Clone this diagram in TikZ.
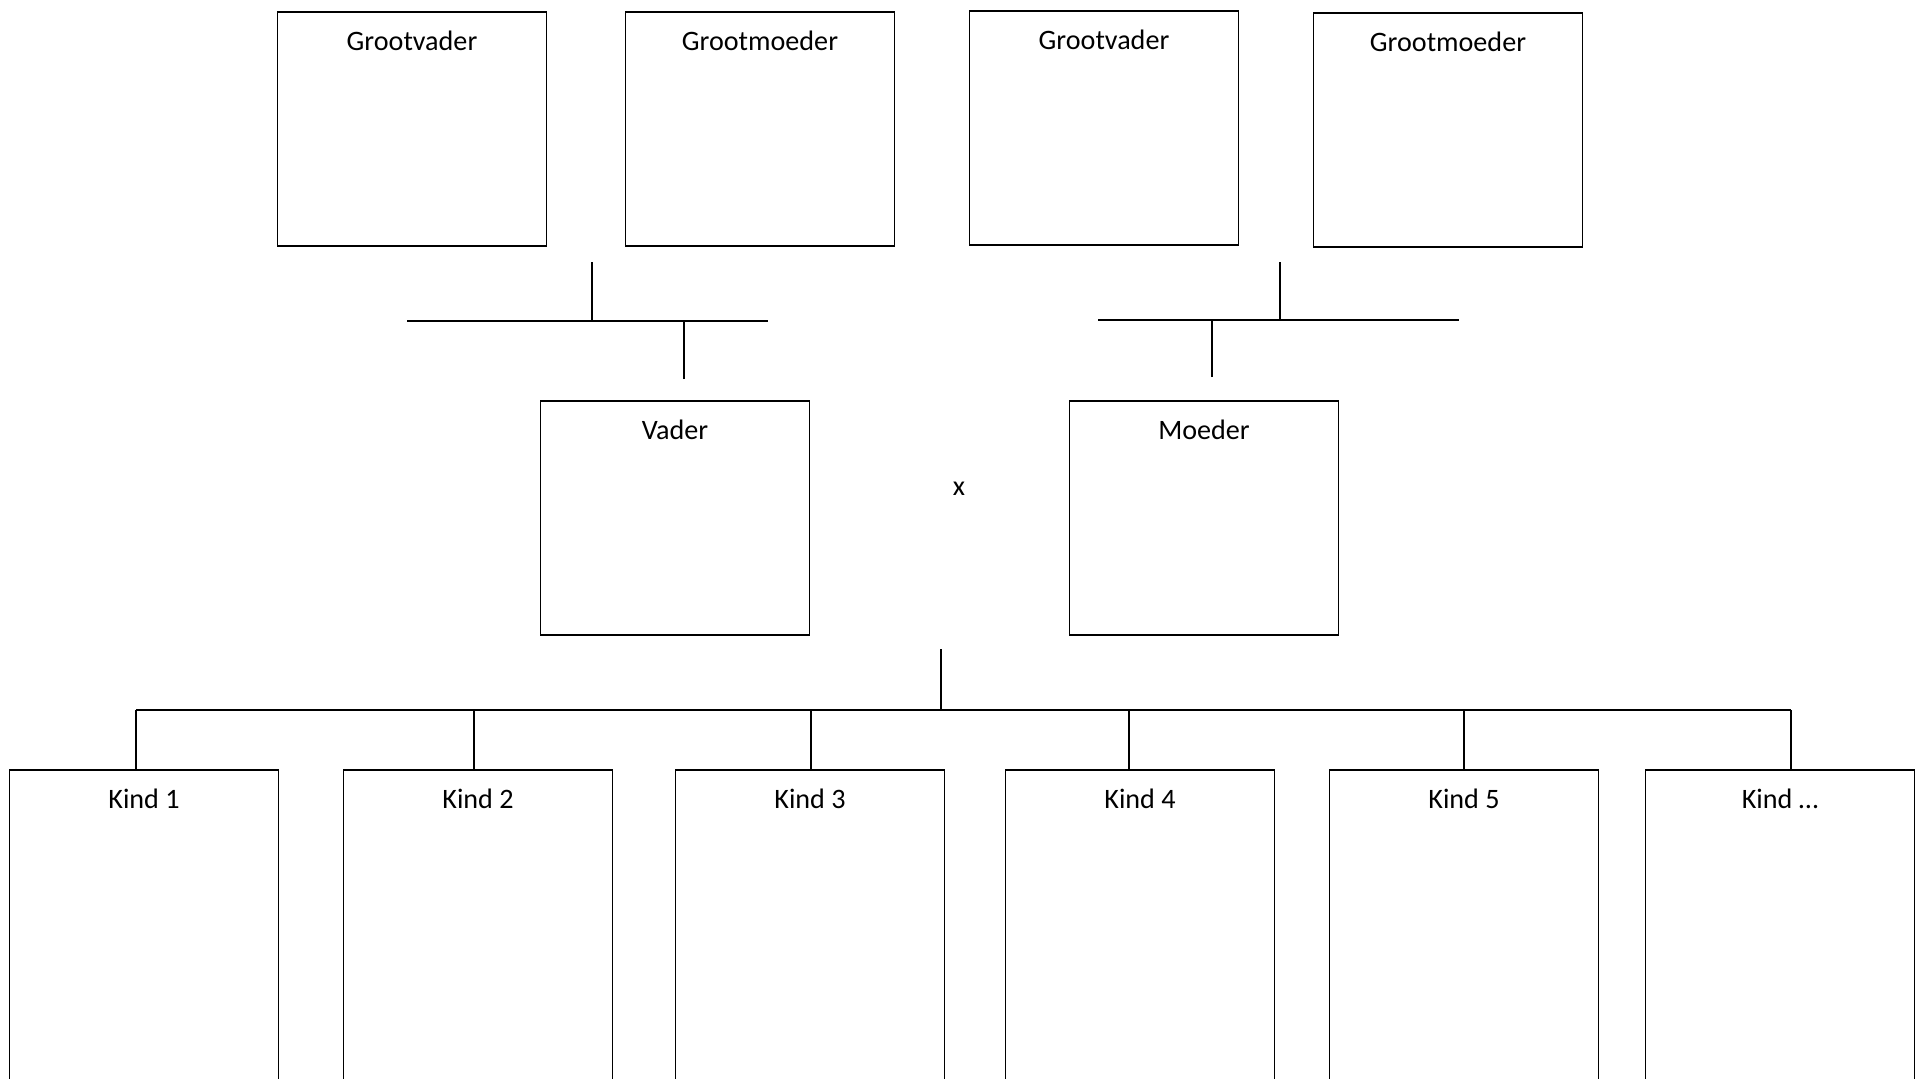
\documentclass[tikz,border=0pt]{standalone}
\usepackage{fontspec}
\setmainfont{Carlito}
\usepackage{tikz}

\begin{document}
\begin{tikzpicture}[x=0.01cm,y=-0.01cm,
  persoon/.style={rectangle,draw,minimum width=2.69cm,minimum height=2.34cm,
    label={[anchor=north,inner sep=0pt,yshift=-0.19cm]north:#1}},
  kind/.style={persoon=#1,minimum height=3.6cm},
  every label/.style={font=\fontsize{8}{10}\selectfont}]
\useasboundingbox (0,0) rectangle (1925,1078);
\clip (0,0) rectangle (1925,1078);

% grootouders
\node [persoon=Grootvader] (gv1) at (412,129) {};
\node [persoon=Grootmoeder] (gm1) at (760,129) {};
\node [persoon=Grootvader] (gv2) at (1104,128) {};
\node [persoon=Grootmoeder] (gm2) at (1448,130) {};

% ouders
\node [persoon=Vader] (vader) at (675,518) {};
\node [persoon=Moeder] (moeder) at (1204,518) {};
\node [font=\fontsize{8}{10}\selectfont] (kruis) at (959,489) {x};

% kinderen
\node [kind=Kind 1] (k1) at (144,950) {};
\node [kind=Kind 2] (k2) at (478,950) {};
\node [kind=Kind 3] (k3) at (810,950) {};
\node [kind=Kind 4] (k4) at (1140,950) {};
\node [kind=Kind 5] (k5) at (1464,950) {};
\node [kind=Kind …] (k6) at (1780,950) {};

% lijnen naar vader
\coordinate (gvv) at (592,262);
\coordinate (vl) at (407,321);
\coordinate (vr) at (768,321);
\coordinate (vk) at ([shift={(9,-21)}]vader.north);
\draw (vl) -- (vr);
\draw (gvv) -- (gvv |- vl);
\draw (vk) -- (vk |- vl);

% lijnen naar moeder
\coordinate (gvm) at (1280,262);
\coordinate (ml) at (1098,320);
\coordinate (mr) at (1459,320);
\coordinate (mk) at ([shift={(8,-23)}]moeder.north);
\draw (ml) -- (mr);
\draw (gvm) -- (gvm |- ml);
\draw (mk) -- (mk |- ml);

% lijnen naar kinderen
\coordinate (kv) at (941,649);
\coordinate (bus) at (941,710);
\coordinate (s1) at ([xshift=-0.08cm]k1.north);
\coordinate (s2) at ([xshift=-0.04cm]k2.north);
\coordinate (s3) at ([xshift=0.01cm]k3.north);
\coordinate (s4) at ([xshift=-0.11cm]k4.north);
\coordinate (s5) at (k5.north);
\coordinate (s6) at ([xshift=0.11cm]k6.north);
\draw (kv) -- (bus);
\draw (s1 |- bus) -- (s6 |- bus);
\draw (s1) -- (s1 |- bus);
\draw (s2) -- (s2 |- bus);
\draw (s3) -- (s3 |- bus);
\draw (s4) -- (s4 |- bus);
\draw (s5) -- (s5 |- bus);
\draw (s6) -- (s6 |- bus);
\end{tikzpicture}
\end{document}
